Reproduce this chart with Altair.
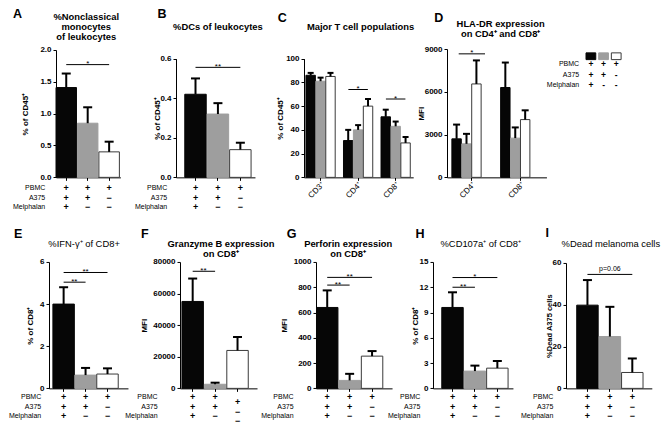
import altair as alt
import pandas as pd

FONT = "Liberation Sans"

# ---------------- categories / styling tables ----------------
conditions = ["PBMC+A375+Melphalan", "PBMC+A375", "PBMC"]
fill_colors = ["#060606", "#9e9e9e", "#ffffff"]
stroke_colors = ["#060606", "#9e9e9e", "#3a3a3a"]

row_names = ["PBMC", "A375", "Melphalan"]
signs_pbmc = ["+", "+", "+"]
signs_a375 = ["+", "+", "\u2212"]
signs_melphalan = ["+", "\u2212", "\u2212"]
legend_pbmc = ["+", "+", "+"]
legend_a375 = ["+", "+", "-"]
legend_melphalan = ["+", "-", "-"]

# ---------------- values ----------------
a_mean = [1.41, 0.85, 0.40]
a_top = [1.63, 1.10, 0.56]
b_mean = [0.42, 0.32, 0.14]
b_top = [0.50, 0.375, 0.175]

c_groups = ["CD3\u207a", "CD4\u207a", "CD8\u207a"]
c_mean_mel = [86, 31, 51]
c_top_mel = [88, 40, 57]
c_mean_a375 = [81, 40, 43]
c_top_a375 = [84, 44, 47]
c_mean_pbmc = [85, 60, 29]
c_top_pbmc = [88, 66, 34]

d_groups = ["CD4\u207a", "CD8\u207a"]
d_mean_mel = [2700, 6300]
d_top_mel = [3700, 8050]
d_mean_a375 = [2350, 2750]
d_top_a375 = [3050, 3500]
d_mean_pbmc = [6550, 4050]
d_top_pbmc = [8200, 4700]

e_mean = [4.0, 0.63, 0.68]
e_top = [4.8, 0.97, 0.95]
f_mean = [55000, 2600, 24000]
f_top = [69500, 3600, 32500]
g_mean = [640, 63, 255]
g_top = [775, 115, 295]
h_mean = [9.6, 2.05, 2.4]
h_top = [11.4, 2.7, 3.25]
i_mean = [39.8, 24.8, 7.6]
i_top = [51.8, 39.0, 14.3]

# significance brackets: (from bar, to bar, height, label)
a_sig = [(0, 2, 1.77, "*")]
b_sig = [(0, 2, 0.556, "**")]
c_sig = [("CD4\u207a", 74, "*"), ("CD8\u207a", 66, "*")]
d_sig = [("CD4\u207a", 8660, "*")]
e_sig = [(0, 1, 5.04, "**"), (0, 2, 5.5, "**")]
f_sig = [(0, 1, 74100, "**")]
g_sig = [(0, 1, 817, "**"), (0, 2, 878, "**")]
h_sig = [(0, 1, 12.0, "**"), (0, 2, 13.15, "*")]
i_sig = [(0, 2, 54.5, "p=0.06")]

# ---------------- layout (figure pixel units, squeezed to fit the page) ----------------
SX, SY = 0.975, 0.965
TOP = dict(row_y=47, bottom=180, rows_y=[191, 201, 211])
BOT = dict(row_y=267, bottom=398, rows_y=[407, 417, 427])
TITLE_SIZE = 9.4

one = pd.DataFrame({"k": [0]})

FILL = alt.Fill("cond:N", scale=alt.Scale(domain=conditions, range=fill_colors), legend=None)
STROKE = alt.Stroke("cond:N", scale=alt.Scale(domain=conditions, range=stroke_colors), legend=None)


def rx(cfg, x):
    return (x - cfg["ax"]) * SX


def ry(cfg, y):
    return (y - cfg["row_y"]) * SY


def row_h(cfg):
    return (cfg["bottom"] - cfg["row_y"]) * SY


def text_layer(s, x, y, size, bold=False, align="center", baseline="middle"):
    return alt.Chart(one).mark_text(
        text=s, fontSize=size, fontWeight="bold" if bold else "normal",
        align=align, baseline=baseline, color="black", font=FONT,
    ).encode(x=alt.value(x), y=alt.value(y))


def band_params(W, L, B, G, n):
    W, L, B, G = W * SX, L * SX, B * SX, G * SX
    step = B + G
    rem = max(W - n * B - (n - 1) * G, 0)
    return dict(range=[0, W], paddingInner=G / step, paddingOuter=rem / (2 * step),
                align=min(L / rem, 1) if rem > 0 else 0.5)


def y_parts(cfg):
    H = row_h(cfg)
    ytop = ry(cfg, cfg["top"])
    ys = alt.Scale(domain=[0, cfg["ymax"]], range=[H, ytop], nice=False, zero=False)
    yax = alt.Axis(values=cfg["ticks"], format=cfg["fmt"], title=cfg["ytitle"],
                   titleX=rx(cfg, cfg["ytitle_x"]), titleY=(H + ytop) / 2, titleAngle=270,
                   titleAlign="center", titleBaseline="middle", grid=False,
                   titleFontSize=cfg.get("ytitle_size", 8))
    return ys, yax


def decorations(cfg):
    layers = [text_layer(cfg["letter"], rx(cfg, cfg["letter_xy"][0]), ry(cfg, cfg["letter_xy"][1]),
                         12.5, True, align="left")]
    for (tx, tyy, s) in cfg["titles"]:
        layers.append(text_layer(s, rx(cfg, tx), ry(cfg, tyy), TITLE_SIZE, cfg["title_bold"]))
    return layers


def simple_panel(cfg, cell_w):
    xs = alt.Scale(type="band", domain=conditions,
                   **band_params(cfg["ax_end"] - cfg["ax"], cfg["L"], cfg.get("B", 22), cfg["G"], 3))
    xax = alt.Axis(labels=False, title=None, ticks=True, grid=False)
    ys, yax = y_parts(cfg)

    def X(f, **kw):
        return alt.X(f"{f}:N", scale=xs, axis=xax, **kw)

    def Y(f):
        return alt.Y(f"{f}:Q", scale=ys, axis=yax)

    df = pd.DataFrame({"cond": conditions, "mean": cfg["mean"], "top": cfg["errtop"]})
    layers = [
        alt.Chart(df).mark_bar(strokeWidth=1).encode(x=X("cond"), y=Y("mean"), fill=FILL, stroke=STROKE),
        alt.Chart(df).mark_rule(strokeWidth=2, color="black").encode(x=X("cond"), y=Y("mean"), y2="top:Q"),
        alt.Chart(df).mark_tick(color="black", thickness=2, size=9, orient="horizontal", opacity=1).encode(
            x=X("cond"), y=Y("top")),
    ]
    sig = pd.DataFrame({
        "from": [conditions[a] for a, b, h, l in cfg["sig"]],
        "to": [conditions[b] for a, b, h, l in cfg["sig"]],
        "mid": [conditions[1] for a, b, h, l in cfg["sig"]],
        "span": [b - a for a, b, h, l in cfg["sig"]],
        "y": [h for a, b, h, l in cfg["sig"]],
        "label": [l for a, b, h, l in cfg["sig"]],
    })
    layers.append(alt.Chart(sig).mark_rule(strokeWidth=1, color="black").encode(
        x=X("from"), x2="to:N", y=Y("y")))
    dy = cfg.get("sig_dy", 1.5)
    fs = cfg.get("sig_size", 8)
    if (sig["span"] == 2).any():
        layers.append(alt.Chart(sig).transform_filter("datum.span == 2").mark_text(
            font=FONT, fontSize=fs, baseline="alphabetic", dy=dy, color="black").encode(
            x=X("mid"), y=Y("y"), text="label:N"))
    if (sig["span"] == 1).any():
        layers.append(alt.Chart(sig).transform_filter("datum.span == 1").mark_text(
            font=FONT, fontSize=fs, baseline="alphabetic", dy=dy, color="black").encode(
            x=X("from", bandPosition=1), y=Y("y"), text="label:N"))

    # +/- table under the bars
    shifts = cfg.get("col_shift", {})
    signs = pd.DataFrame({
        "cond": conditions * 3,
        "row": [0] * 3 + [1] * 3 + [2] * 3,
        "sign": signs_pbmc + signs_a375 + signs_melphalan,
        "shift": [shifts.get(c, 0) for c in [0, 1, 2]] * 3,
    })
    for r in range(3):
        for s in sorted(set(signs["shift"])):
            layers.append(alt.Chart(signs).transform_filter(
                f"datum.row == {r} && datum.shift == {s}").mark_text(
                font=FONT, fontSize=9, fontWeight="bold", color="black", baseline="middle").encode(
                x=X("cond"), y=alt.value(ry(cfg, cfg["rows_y"][r] + s)), text="sign:N"))
        layers.append(text_layer(row_names[r], rx(cfg, cfg["rowlab_x"]), ry(cfg, cfg["rows_y"][r]), 7,
                                 align="right"))
    layers += decorations(cfg)
    return alt.layer(*layers).properties(width=cell_w, height=row_h(cfg))


def grouped_panel(cfg, cell_w, groups, means, tops):
    n = len(groups)
    xs = alt.Scale(type="band", domain=groups,
                   **band_params(cfg["ax_end"] - cfg["ax"], cfg["L"], cfg["BW"], cfg["GG"], n))
    xax = alt.Axis(title=None, ticks=True, grid=False, labelAngle=315, labelAlign="right",
                   labelBaseline="top", labelFontWeight="normal", labelFontSize=8, labelPadding=0)
    ys, yax = y_parts(cfg)
    xo = alt.XOffset("cond:N", scale=alt.Scale(domain=conditions, paddingInner=0.05))

    def X(f):
        return alt.X(f"{f}:N", scale=xs, axis=xax)

    def Y(f):
        return alt.Y(f"{f}:Q", scale=ys, axis=yax)

    rows = []
    for ci, c in enumerate(conditions):
        for gi, g in enumerate(groups):
            rows.append({"group": g, "cond": c, "mean": means[ci][gi], "top": tops[ci][gi]})
    df = pd.DataFrame(rows)
    layers = [
        alt.Chart(df).mark_bar(strokeWidth=1).encode(x=X("group"), xOffset=xo, y=Y("mean"),
                                                     fill=FILL, stroke=STROKE),
        alt.Chart(df).mark_rule(strokeWidth=2, color="black").encode(
            x=X("group"), xOffset=xo, y=Y("mean"), y2="top:Q"),
        alt.Chart(df).mark_tick(color="black", thickness=2, size=cfg["cap"], orient="horizontal",
                                opacity=1).encode(x=X("group"), xOffset=xo, y=Y("top")),
    ]
    sig = pd.DataFrame({"group": [g for g, h, l in cfg["sig"]],
                        "y": [h for g, h, l in cfg["sig"]],
                        "label": [l for g, h, l in cfg["sig"]]})
    layers.append(alt.Chart(sig).mark_tick(color="black", thickness=1, size=cfg["sig_len"] * SX,
                                           orient="horizontal", opacity=1).encode(x=X("group"), y=Y("y")))
    layers.append(alt.Chart(sig).mark_text(font=FONT, fontSize=8, baseline="alphabetic", dy=1.5,
                                           color="black").encode(x=X("group"), y=Y("y"), text="label:N"))
    layers += decorations(cfg)
    return alt.layer(*layers).properties(width=cell_w, height=row_h(cfg))


def legend_cell(cfg, cell_w):
    ls = alt.Scale(type="band", domain=conditions, range=[0, 36 * SX], paddingInner=3 / 13, paddingOuter=0)
    X = alt.X("cond:N", scale=ls, axis=None)
    df = pd.DataFrame({"cond": conditions, "r0": legend_pbmc, "r1": legend_a375, "r2": legend_melphalan})
    layers = [alt.Chart(df).mark_rect(strokeWidth=1).encode(
        x=X, y=alt.value(ry(cfg, 51)), y2=alt.value(ry(cfg, 58)), fill=FILL, stroke=STROKE)]
    for r, yy in enumerate([63, 74, 84]):
        layers.append(alt.Chart(df).mark_text(font=FONT, fontSize=8.5, fontWeight="bold", color="black",
                                              baseline="middle").encode(
            x=X, y=alt.value(ry(cfg, yy)), text=f"r{r}:N"))
        layers.append(text_layer(row_names[r], rx(cfg, 580), ry(cfg, yy), 7, align="right"))
    return alt.layer(*layers).properties(width=cell_w, height=row_h(cfg))


def spacer(w, h):
    return alt.Chart(one).mark_point(size=0, opacity=0).encode(
        x=alt.value(0), y=alt.value(0)).properties(width=w, height=h)


# ---------------- panel settings ----------------
cfgA = dict(TOP, ax=46, ax_end=112, L=0, B=21, G=1, top=48, ymax=2.0,
            ticks=[0, 0.5, 1.0, 1.5, 2.0], fmt=".1f", ytitle="% of CD45\u207a", ytitle_x=15,
            mean=a_mean, errtop=a_top, sig=a_sig, rowlab_x=35,
            letter="A", letter_xy=(2, 11), title_bold=True,
            titles=[(77, 14, "%Nonclassical"), (77, 24.5, "monocytes"), (77, 35, "of leukocytes")])
cfgB = dict(TOP, ax=169, ax_end=250, L=9, G=1, top=57, ymax=0.6,
            ticks=[0, 0.2, 0.4, 0.6], fmt=".1f", ytitle="% of CD45\u207a", ytitle_x=150,
            mean=b_mean, errtop=b_top, sig=b_sig, rowlab_x=160,
            letter="B", letter_xy=(150, 11), title_bold=True,
            titles=[(212, 24, "%DCs of leukocytes")])
cfgC = dict(TOP, ax=300, ax_end=412, L=2, BW=30, GG=8.5, top=57, ymax=100,
            ticks=[0, 20, 40, 60, 80, 100], fmt="d", ytitle="% of CD45\u207a", ytitle_x=276,
            sig=c_sig, sig_len=20, cap=6,
            letter="C", letter_xy=(273, 15), title_bold=True,
            titles=[(358, 24, "Major T cell populations")])
cfgD = dict(TOP, ax=445, ax_end=547, L=5, BW=41, GG=9, top=47, ymax=9000,
            ticks=[0, 3000, 6000, 9000], fmt="d", ytitle="MFI", ytitle_x=419,
            sig=d_sig, sig_len=27, cap=7,
            letter="D", letter_xy=(432, 15), title_bold=True,
            titles=[(500, 21, "HLA-DR expression"), (500, 31.5, "on CD4\u207a and CD8\u207a")])
cfgLeg = dict(TOP, ax=587)

cfgE = dict(BOT, ax=39, ax_end=120, L=4, G=0.5, top=267, ymax=6,
            ticks=[0, 2, 4, 6], fmt="d", ytitle="% of CD8\u207a", ytitle_x=20,
            mean=e_mean, errtop=e_top, sig=e_sig, rowlab_x=31,
            letter="E", letter_xy=(3, 238), title_bold=False,
            titles=[(75, 248, "%IFN-\u03b3\u207a of CD8+")])
cfgF = dict(BOT, ax=173, ax_end=252, L=2, G=1, top=267, ymax=80000,
            ticks=[0, 20000, 40000, 60000, 80000], fmt="d", ytitle="MFI", ytitle_x=137,
            mean=f_mean, errtop=f_top, sig=f_sig, rowlab_x=150, col_shift={2: 5},
            letter="F", letter_xy=(133, 238), title_bold=True,
            titles=[(215, 248.5, "Granzyme B expression"), (215, 259, "on CD8\u207a")])
cfgG = dict(BOT, ax=312, ax_end=390, L=0.5, G=1, top=267, ymax=1000,
            ticks=[0, 200, 400, 600, 800, 1000], fmt="d", ytitle="MFI", ytitle_x=280,
            mean=g_mean, errtop=g_top, sig=g_sig, rowlab_x=289,
            letter="G", letter_xy=(282, 238), title_bold=True,
            titles=[(345, 248.5, "Perforin expression"), (345, 259, "on CD8\u207a")])
cfgH = dict(BOT, ax=431, ax_end=513, L=9, G=1, top=267, ymax=15,
            ticks=[0, 3, 6, 9, 12, 15], fmt="d", ytitle="% of CD8\u207a", ytitle_x=413,
            mean=h_mean, errtop=h_top, sig=h_sig, rowlab_x=418,
            letter="H", letter_xy=(413, 238), title_bold=False,
            titles=[(480, 248, "%CD107a\u207a of CD8\u207a")])
cfgI = dict(BOT, ax=567, ax_end=655, L=11, G=1, top=268, ymax=60,
            ticks=[0, 20, 40, 60], fmt="d", ytitle="%Dead A375 cells", ytitle_x=550,
            ytitle_size=7.5,
            mean=i_mean, errtop=i_top, sig=i_sig, rowlab_x=554, sig_dy=-3, sig_size=7,
            letter="I", letter_xy=(546, 237), title_bold=False,
            titles=[(613, 248, "%Dead melanoma cells")])

# ---------------- grid: union of all panel starts gives the columns ----------------
top_row = {c["ax"]: c for c in [cfgA, cfgB, cfgC, cfgD, cfgLeg]}
bot_row = {c["ax"]: c for c in [cfgE, cfgF, cfgG, cfgH, cfgI]}
starts = sorted(set(top_row) | set(bot_row))
col_w = [(starts[i + 1] - starts[i]) * SX for i in range(len(starts) - 1)] + [36 * SX]


def build(cfg, w):
    if cfg is cfgLeg:
        return legend_cell(cfg, w)
    if cfg is cfgC:
        return grouped_panel(cfg, w, c_groups, [c_mean_mel, c_mean_a375, c_mean_pbmc],
                             [c_top_mel, c_top_a375, c_top_pbmc])
    if cfg is cfgD:
        return grouped_panel(cfg, w, d_groups, [d_mean_mel, d_mean_a375, d_mean_pbmc],
                             [d_top_mel, d_top_a375, d_top_pbmc])
    return simple_panel(cfg, w)


cells = []
for row, ref in [(top_row, TOP), (bot_row, BOT)]:
    h = (ref["bottom"] - ref["row_y"]) * SY
    for i, s in enumerate(starts):
        cells.append(build(row[s], col_w[i]) if s in row else spacer(col_w[i], h))

chart = alt.concat(
    *cells, columns=len(starts),
    spacing={"row": (BOT["row_y"] - TOP["bottom"]) * SY, "column": 0},
    bounds="flush", align="each",
).properties(padding=0, background="white").configure_view(stroke=None).configure_axis(
    labelFont=FONT, titleFont=FONT, labelFontSize=8, labelFontWeight="bold",
    titleFontWeight="bold", labelColor="black", titleColor="black",
    domainColor="black", tickColor="black", tickSize=3, labelPadding=2,
    domainWidth=1, tickWidth=1, grid=False,
)

chart.save("out.html", embed_options={"renderer": "svg", "actions": False})
